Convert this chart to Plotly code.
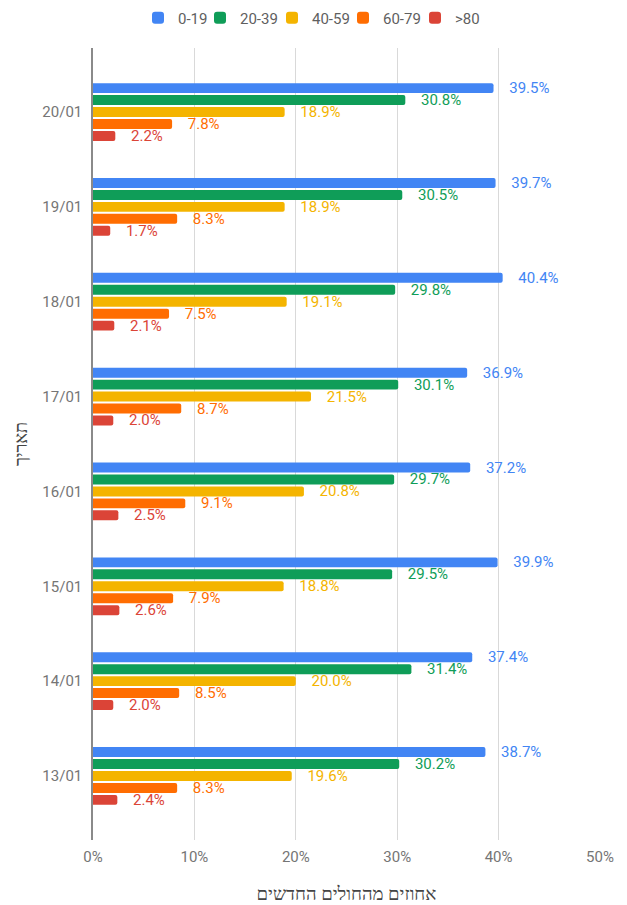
import plotly.graph_objects as go

dates = ["20/01", "19/01", "18/01", "17/01", "16/01", "15/01", "14/01", "13/01"]
series_names = ["0-19", "20-39", "40-59", "60-79", ">80"]
v_0_19 = [39.5, 39.7, 40.4, 36.9, 37.2, 39.9, 37.4, 38.7]
v_20_39 = [30.8, 30.5, 29.8, 30.1, 29.7, 29.5, 31.4, 30.2]
v_40_59 = [18.9, 18.9, 19.1, 21.5, 20.8, 18.8, 20.0, 19.6]
v_60_79 = [7.8, 8.3, 7.5, 8.7, 9.1, 7.9, 8.5, 8.3]
v_80 = [2.2, 1.7, 2.1, 2.0, 2.5, 2.6, 2.0, 2.4]
x_ticks = [0, 10, 20, 30, 40, 50]
x_tick_labels = ["0%", "10%", "20%", "30%", "40%", "50%"]
colors = ["#4285F4", "#0F9D58", "#F4B400", "#FF6D01", "#DB4437"]

all_values = [v_0_19, v_20_39, v_40_59, v_60_79, v_80]

W, H = 619, 897  # page has an 8px body margin
legend_ids = ["legend", "legend2", "legend3", "legend4", "legend5"]
legend_centers = [158, 220, 292, 363, 435]  # page x of legend swatches

fig = go.Figure()
for name, vals, col, lid in zip(series_names, all_values, colors, legend_ids):
    fig.add_trace(go.Bar(
        y=dates, x=vals, name=name, orientation="h",
        marker=dict(color=col, line=dict(width=0)),
        text=["\u00a0\u00a0\u00a0\u200a" + f"{v:.1f}%" for v in vals],
        textposition="outside",
        constraintext="none",
        cliponaxis=False,
        textfont=dict(color=col, size=15, family="Roboto"),
        hoverinfo="skip",
        legend=lid,
    ))

legend_layout = {}
for lid, cx in zip(legend_ids, legend_centers):
    legend_layout[lid] = dict(
        orientation="h", xref="container", yref="container",
        x=(cx - 28) / W, xanchor="left",
        y=1 - 10 / H, yanchor="middle",
        font=dict(size=15, color="#5f5f5f", family="Roboto"),
        bgcolor="rgba(0,0,0,0)", borderwidth=0,
    )

fig.update_layout(
    width=W, height=H,
    barmode="group",
    bargap=0.37,
    bargroupgap=0.17,
    barcornerradius=2,
    plot_bgcolor="white",
    paper_bgcolor="white",
    font=dict(family="Roboto", size=15, color="#444444"),
    margin=dict(l=85, r=27, t=40, b=65),
    showlegend=True,
    xaxis=dict(
        range=[0, 50], tickvals=x_ticks, ticktext=x_tick_labels,
        showgrid=True, gridcolor="#d9d9d9", gridwidth=1,
        zeroline=False, showline=False,
        tickfont=dict(size=15, color="#757575"),
        ticks="", ticklabelstandoff=6,
        title=dict(text="אחוזים מהחולים החדשים", font=dict(size=18.5, color="#444444"), standoff=27),
        automargin=False, fixedrange=True,
    ),
    yaxis=dict(
        type="category", categoryorder="array", categoryarray=dates,
        range=[7.675, -0.675],
        showgrid=False, zeroline=False,
        showline=True, linecolor="#8a8a8a", linewidth=1.5,
        tickfont=dict(size=15, color="#757575"),
        ticks="", ticklabelstandoff=6,
        title=dict(text="תאריך", font=dict(size=18, color="#444444"), standoff=10),
        automargin=False, fixedrange=True,
    ),
    **legend_layout,
)

fig.write_html("out.html")
